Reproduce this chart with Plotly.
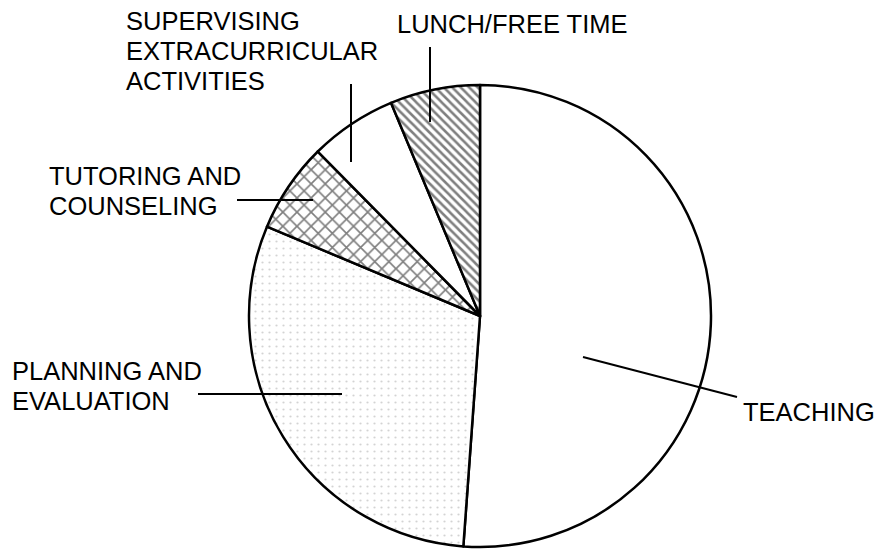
import plotly.graph_objects as go

# ---- data (percent of teacher's time) ----
categories = ["TEACHING", "PLANNING AND EVALUATION", "TUTORING AND COUNSELING",
              "SUPERVISING EXTRACURRICULAR ACTIVITIES", "LUNCH/FREE TIME"]
values = [51.2, 30.2, 6.3, 6.1, 6.3]
label_lines = [["TEACHING"], ["PLANNING AND", "EVALUATION"], ["TUTORING AND", "COUNSELING"],
               ["SUPERVISING", "EXTRACURRICULAR", "ACTIVITIES"], ["LUNCH/FREE TIME"]]
patterns = ["", ".", "x", "", "\\"]

W, H = 875, 549
FONT = "Liberation Sans, Arial, Helvetica, sans-serif"
FS = 25.5

def px(x):
    return x / W

def py(y):
    return 1 - y / H

# pie geometry (pixels)
cx, cy, r = 480, 316, 231

pattern_fg = ["black", "#a8a8a8", "black", "black", "black"]
pattern_size = [8, 7, 10, 6, 6]
pattern_sol = [0.3, 0.08, 0.3, 0.3, 0.42]

fig = go.Figure(go.Pie(
    labels=categories,
    values=values,
    sort=False,
    direction="clockwise",
    rotation=0,
    textinfo="none",
    hoverinfo="label+percent",
    marker=dict(
        colors=["white"] * 5,
        line=dict(color="black", width=2.5),
        pattern=dict(shape=patterns, fgcolor=pattern_fg, bgcolor="white",
                     size=pattern_size, solidity=pattern_sol, fillmode="overlay"),
    ),
    domain=dict(x=[px(cx - r), px(cx + r)], y=[py(cy + r), py(cy - r)]),
    showlegend=False,
))

# label text positions (left x, cap-top y of first line) and line pitch
label_pos = [(743, 403), (12, 362), (49, 167), (126, 12), (397, 15)]
pitch = 30
annotations = []
for lines, (lx, ly) in zip(label_lines, label_pos):
    for i, t in enumerate(lines):
        annotations.append(dict(
            x=px(lx), y=py(ly + i * pitch - 4.8), xref="paper", yref="paper",
            xanchor="left", yanchor="top", text=t, showarrow=False,
            borderpad=0, borderwidth=0,
            font=dict(family=FONT, size=FS, color="black"),
        ))

# leader lines (pixels)
leaders = [((583, 357), (737, 397)), ((198, 394), (342, 394)), ((237, 200), (313, 200)),
           ((351, 84), (351, 162)), ((430, 47), (430, 122))]
shapes = []
for (x0, y0), (x1, y1) in leaders:
    shapes.append(dict(type="line", xref="paper", yref="paper",
                       x0=px(x0), y0=py(y0), x1=px(x1), y1=py(y1),
                       line=dict(color="black", width=2)))

fig.update_layout(
    width=W, height=H,
    margin=dict(l=0, r=0, t=0, b=0),
    paper_bgcolor="white", plot_bgcolor="white",
    annotations=annotations, shapes=shapes,
    showlegend=False,
)

fig.write_html("out.html", config={"displayModeBar": False},
               post_script="document.body.style.margin='0';document.body.style.overflow='hidden';")
